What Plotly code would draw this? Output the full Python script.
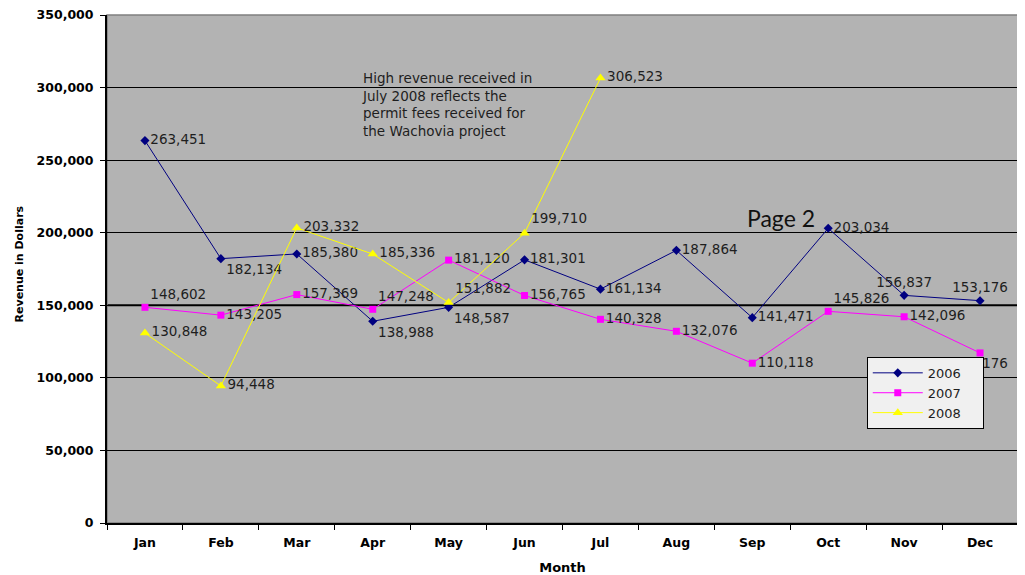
import plotly.graph_objects as go

months = ["Jan", "Feb", "Mar", "Apr", "May", "Jun", "Jul", "Aug", "Sep", "Oct", "Nov", "Dec"]
rev_2006 = [263451, 182134, 185380, 138988, 148587, 181301, 161134, 187864, 141471, 203034, 156837, 153176]
rev_2007 = [148602, 143205, 157369, 147248, 181120, 156765, 140328, 132076, 110118, 145826, 142096, 117176]
rev_2008 = [130848, 94448, 203332, 185336, 151882, 199710, 306523]
months_2008 = months[:7]

pos_2006 = ["middle right", "bottom right", "middle right", "bottom right", "bottom right", "middle right",
            "middle right", "middle right", "middle right", "middle right", "top center", "top center"]
pos_2007 = ["top right", "middle right", "middle right", "top right", "middle right", "middle right",
            "middle right", "middle right", "middle right", "top right", "middle right", "bottom center"]
pos_2008 = ["middle right", "middle right", "middle right", "middle right", "top right", "top right", "middle right"]

y_ticks = [0, 50000, 100000, 150000, 200000, 250000, 300000, 350000]
y_tick_text = ["0", "50,000", "100,000", "150,000", "200,000", "250,000", "300,000", "350,000"]

note = ("High revenue received in<br>July 2008 reflects the<br>"
        "permit fees received for<br>the Wachovia project")

label_font = dict(family="DejaVu Sans", size=13.5, color="#1e1e1e")
pad = "\u00a0" * 4

fig = go.Figure()
fig.add_trace(go.Scatter(
    x=months, y=rev_2006, name="2006" + pad, mode="lines+markers+text",
    line=dict(color="#000080", width=1),
    marker=dict(symbol="diamond", size=7, color="#000080"),
    text=[f"{v:,}" for v in rev_2006], textposition=pos_2006, textfont=label_font,
    cliponaxis=False,
))
fig.add_trace(go.Scatter(
    x=months, y=rev_2007, name="2007" + pad, mode="lines+markers+text",
    line=dict(color="#ff00ff", width=1),
    marker=dict(symbol="square", size=7, color="#ff00ff"),
    text=[f"{v:,}" for v in rev_2007], textposition=pos_2007, textfont=label_font,
    cliponaxis=False,
))
fig.add_trace(go.Scatter(
    x=months_2008, y=rev_2008, name="2008" + pad, mode="lines+markers+text",
    line=dict(color="#ffff00", width=1),
    marker=dict(symbol="triangle-up", size=9, color="#ffff00"),
    text=[f"{v:,}" for v in rev_2008], textposition=pos_2008, textfont=label_font,
    cliponaxis=False,
))

# thicker 150,000 reference line
fig.add_shape(type="line", xref="paper", yref="y", x0=0, x1=1, y0=150000, y1=150000,
              line=dict(color="black", width=2), layer="below")
# gray frame on top/right
fig.add_shape(type="rect", xref="paper", yref="paper", x0=0, x1=1, y0=0, y1=1,
              line=dict(color="#808080", width=1.5), layer="below")

fig.add_annotation(text=note, xref="paper", yref="paper", x=0.278, y=0.896,
                   xanchor="left", yanchor="top", align="left", showarrow=False,
                   font=dict(family="DejaVu Sans", size=13.5, color="#1e1e1e"))
fig.add_annotation(text="Page 2", xref="paper", yref="paper", x=0.7, y=0.6,
                   xanchor="left", yanchor="middle", showarrow=False,
                   font=dict(family="Lato", size=23, color="#111111"))
fig.add_annotation(text="Revenue in Dollars", xref="paper", yref="paper", x=-0.096, y=0.51,
                   xanchor="center", yanchor="middle", textangle=-90, showarrow=False,
                   font=dict(family="DejaVu Sans", size=11, color="black", weight="bold"))

# page body has an 8px default margin, so the figure is sized to fit the 1025x575 window
fig.update_layout(
    width=1017, height=567,
    margin=dict(l=99, r=7, t=7, b=52),
    paper_bgcolor="white",
    plot_bgcolor="#b3b3b3",
    showlegend=True,
    legend=dict(x=0.834, y=0.327, xanchor="left", yanchor="top",
                bgcolor="#f0f0f0", bordercolor="black", borderwidth=1,
                font=dict(family="DejaVu Sans", size=13, color="#1e1e1e"),
                tracegroupgap=1, itemwidth=50),
    xaxis=dict(
        type="category", categoryorder="array", categoryarray=months,
        range=[-0.5, 11.5], tickson="boundaries", ticks="outside", ticklen=5,
        tickcolor="black", showgrid=False, showline=True, linecolor="black", linewidth=2,
        tickfont=dict(family="DejaVu Sans", size=12.5, color="black", weight="bold"),
        ticklabelstandoff=7,
        title=dict(text="Month", font=dict(family="DejaVu Sans", size=13, color="black", weight="bold"),
                   standoff=14),
        zeroline=False, automargin=False,
    ),
    yaxis=dict(
        range=[0, 350000], tickvals=y_ticks, ticktext=y_tick_text,
        ticks="outside", ticklen=5, tickcolor="black",
        showgrid=True, gridcolor="black", gridwidth=1,
        showline=True, linecolor="black", linewidth=2, zeroline=False,
        tickfont=dict(family="DejaVu Sans", size=12.5, color="black", weight="bold"),
        ticklabelstandoff=4, ticklabeloverflow="allow",
        automargin=False,
    ),
)

fig.write_html("out.html")
